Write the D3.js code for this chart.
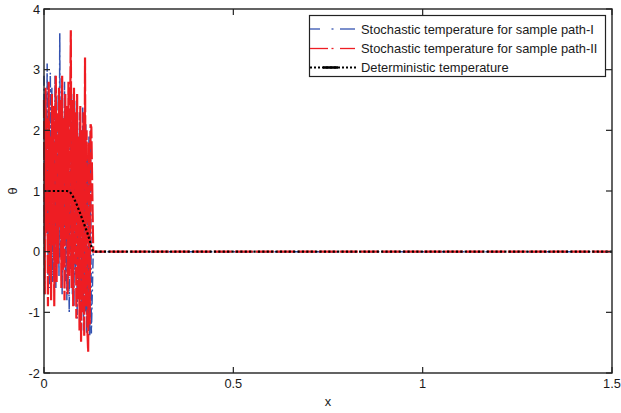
<!DOCTYPE html>
<html>
<head>
<meta charset="utf-8">
<script src="https://cdn.jsdelivr.net/npm/d3@7"></script>
<style>
  html, body { margin: 0; padding: 0; background: #fff; }
  svg { display: block; }
  text { font-family: "Liberation Sans", Arial, sans-serif; fill: #1a1a1a; }
</style>
</head>
<body>
<svg id="chart" width="621" height="413"></svg>
<script>
// Sampling grid of the noisy zone (0 .. 0.125), after which both paths settle at 0
const noisyEnd = 0.125;
const xEnd = 1.5;

// Stochastic temperature, sample path I
const pathOne = [
  2.9, -0.7, 2.6, 0.5, 3.1, -0.4, 2.3, -0.6, 2.95, 0.2,
  2.7, -0.5, 2.4, -0.2, 2.9, -0.6, 2.1, 0.3, 2.6, -0.4,
  3.6, -0.1, 2.5, -0.7, 2.2, 0.1, 2.8, -0.5, 2.0, -0.8,
  2.4, 0.0, -1.0, 2.3, -0.3, 2.6, -0.7, 1.9, -0.9, 2.2,
  -0.4, 2.5, -1.1, 1.8, -0.6, 2.3, -1.2, 2.0, -0.9, 2.4,
  -1.3, 1.7, -1.0, 2.1, -1.35, 1.6, -1.2, 1.9, -1.4, 2.0,
  -1.35
];

// Stochastic temperature, sample path II
const pathTwo = [
  2.5, -0.7, 2.7, 0.3, 2.2, -0.9, 2.8, -0.4, 1.9, -0.8,
  2.6, 0.1, 2.4, -0.9, 1.6, 2.9, -0.5, 2.3, -0.2, 2.7,
  0.4, 2.5, -0.6, 2.9, -0.3, 2.2, -0.8, 2.6, 0.2, 2.4,
  -0.7, 2.8, -0.4, 2.1, 3.65, -0.6, 2.5, -0.9, 2.7, -0.2,
  2.3, -1.1, 2.6, -0.8, 1.9, -1.3, 2.4, -1.5, 2.0, -1.0,
  2.3, -1.4, 3.2, -0.9, 2.0, -1.3, -1.65, 1.8, -1.2, 2.1,
  2.05
];

// Deterministic temperature
const detX = [0, 0.02, 0.04, 0.06, 0.068, 0.075, 0.085, 0.095, 0.105, 0.115, 0.122, 0.127, 0.13, 0.5, 1.0, 1.5];
const detY = [1, 1, 1, 1, 0.99, 0.93, 0.8, 0.64, 0.47, 0.3, 0.16, 0.04, 0.0, 0, 0, 0];

const xTicks = [0, 0.5, 1, 1.5];
const xTickLabels = ["0", "0.5", "1", "1.5"];
const yTicks = [-2, -1, 0, 1, 2, 3, 4];

const legendLabels = [
  "Stochastic temperature for sample path-I",
  "Stochastic temperature for sample path-II",
  "Deterministic temperature"
];

const colors = { one: "#3352b0", two: "#ee1d23", det: "#000" };

const svg = d3.select("#chart");
const m = { left: 44, right: 9, top: 9, bottom: 40 };
const W = 621, H = 413;

const x = d3.scaleLinear().domain([0, xEnd]).range([m.left, W - m.right]);
const y = d3.scaleLinear().domain([-2, 4]).range([H - m.bottom, m.top]);

function series(vals) {
  const step = noisyEnd / (vals.length - 1);
  const pts = vals.map((v, i) => [i * step, v]);
  pts.push([noisyEnd + 0.005, 0]);
  pts.push([xEnd, 0]);
  return pts;
}

const line = d3.line().x(d => x(d[0])).y(d => y(d[1]));

const plot = svg.append("g");
plot.append("path")
  .datum(series(pathOne))
  .attr("d", line)
  .attr("fill", "none")
  .attr("stroke", colors.one)
  .attr("stroke-width", 1.5)
  .attr("stroke-dasharray", "10,3,2,3");

plot.append("path")
  .datum(series(pathTwo))
  .attr("d", line)
  .attr("fill", "none")
  .attr("stroke", colors.two)
  .attr("stroke-width", 2.2)
  .attr("stroke-dasharray", "18,3");

plot.append("path")
  .datum(detX.map((v, i) => [v, detY[i]]))
  .attr("d", line)
  .attr("fill", "none")
  .attr("stroke", colors.det)
  .attr("stroke-width", 2.2)
  .attr("stroke-dasharray", "2.2,2.2");

// Frame and inward ticks on all four sides
const frame = svg.append("g");
frame.append("rect")
  .attr("x", x(0)).attr("y", y(4))
  .attr("width", x(xEnd) - x(0)).attr("height", y(-2) - y(4))
  .attr("fill", "none").attr("stroke", "#222").attr("stroke-width", 1.4);

const tl = 6;
xTicks.forEach(t => {
  frame.append("line").attr("x1", x(t)).attr("x2", x(t))
    .attr("y1", y(-2)).attr("y2", y(-2) - tl).attr("stroke", "#222").attr("stroke-width", 1.2);
  frame.append("line").attr("x1", x(t)).attr("x2", x(t))
    .attr("y1", y(4)).attr("y2", y(4) + tl).attr("stroke", "#222").attr("stroke-width", 1.2);
});
yTicks.forEach(t => {
  frame.append("line").attr("x1", x(0)).attr("x2", x(0) + tl)
    .attr("y1", y(t)).attr("y2", y(t)).attr("stroke", "#222").attr("stroke-width", 1.2);
  frame.append("line").attr("x1", x(xEnd)).attr("x2", x(xEnd) - tl)
    .attr("y1", y(t)).attr("y2", y(t)).attr("stroke", "#222").attr("stroke-width", 1.2);
});

// Tick labels
xTicks.forEach((t, i) => {
  svg.append("text").attr("x", x(t)).attr("y", y(-2) + 15)
    .attr("text-anchor", "middle").attr("font-size", 12.8).text(xTickLabels[i]);
});
yTicks.forEach(t => {
  svg.append("text").attr("x", x(0) - 4).attr("y", y(t) + 4.5)
    .attr("text-anchor", "end").attr("font-size", 12.8).text(t);
});

// Axis titles
svg.append("text").attr("x", (x(0) + x(xEnd)) / 2).attr("y", 406)
  .attr("text-anchor", "middle").attr("font-size", 12.8).text("x");
svg.append("text")
  .attr("transform", `translate(17,${y(1)}) rotate(-90)`)
  .attr("text-anchor", "middle").attr("font-size", 12.8).text("θ");

// Legend
const lg = svg.append("g");
lg.append("rect").attr("x", 309.5).attr("y", 15.5).attr("width", 296).attr("height", 61)
  .attr("fill", "#fff").attr("stroke", "#222").attr("stroke-width", 1.2);
const rowY = [29, 48.5, 67.5];

// sample strokes: [x1, x2] pieces for each entry
const samplePieces = [
  [[310, 320], [331.5, 333.5], [340, 355]],
  [[310, 328], [331.5, 333.5], [340, 355]]
];
samplePieces.forEach((pieces, i) => {
  pieces.forEach(p => {
    lg.append("line").attr("x1", p[0]).attr("x2", p[1]).attr("y1", rowY[i]).attr("y2", rowY[i])
      .attr("stroke", i === 0 ? colors.one : colors.two).attr("stroke-width", 1.3);
  });
});
lg.append("line").attr("x1", 310).attr("x2", 358).attr("y1", rowY[2]).attr("y2", rowY[2])
  .attr("stroke", colors.det).attr("stroke-width", 1.8).attr("stroke-dasharray", "2,2");
lg.append("line").attr("x1", 323).attr("x2", 338).attr("y1", rowY[2]).attr("y2", rowY[2])
  .attr("stroke", colors.det).attr("stroke-width", 2.6);

legendLabels.forEach((lab, i) => {
  lg.append("text").attr("x", 361).attr("y", rowY[i] + 4.5)
    .attr("font-size", 12.9).text(lab);
});
</script>
</body>
</html>
